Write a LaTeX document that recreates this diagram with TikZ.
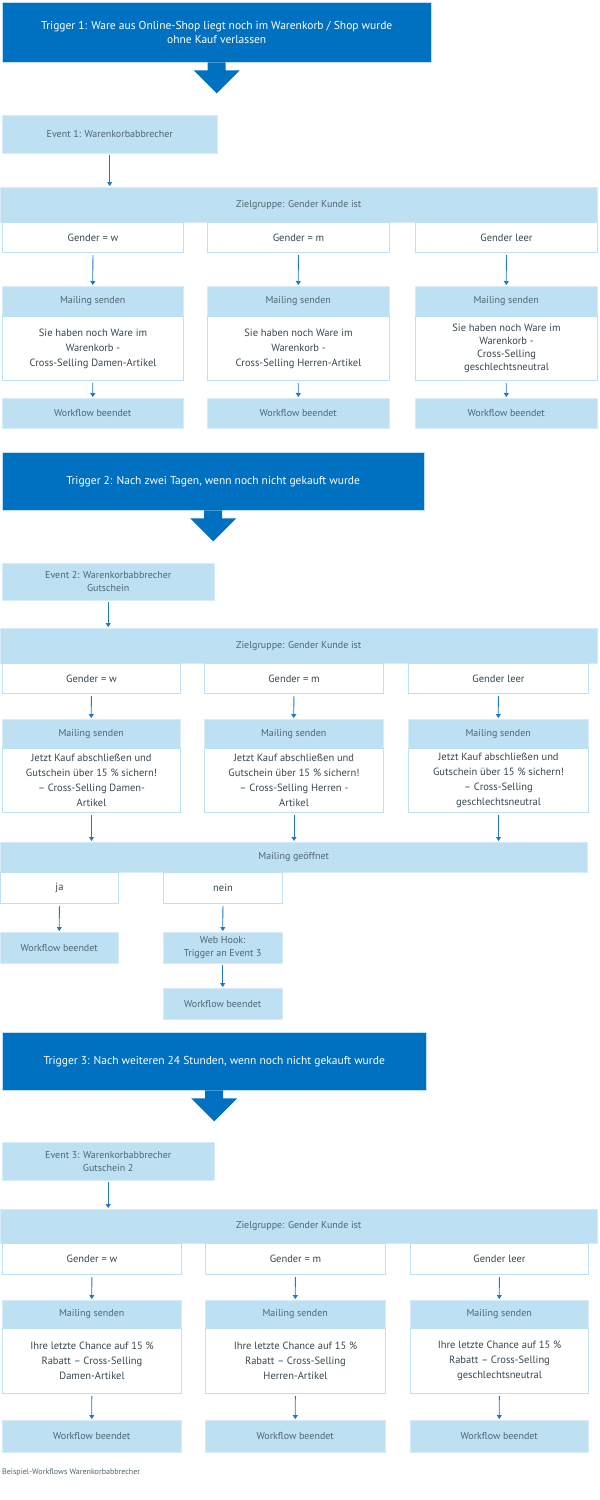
\documentclass[tikz,border=0pt]{standalone}
\usepackage{fontspec}
\setmainfont{PT Sans}
\usepackage{xcolor}
\usetikzlibrary{positioning,calc,arrows.meta}
\definecolor{darkBlue}{HTML}{0070C0}
\definecolor{lightBlue}{HTML}{BDE0F3}
\definecolor{lineBlue}{HTML}{1F78C8}
\definecolor{textGrey}{HTML}{4F6673}
\tikzstyle{nodeTrigger}=[anchor=north west,fill=darkBlue,draw=lightBlue,text=white,align=center,font=\fontsize{11.5}{14}\selectfont,inner sep=0pt]
\tikzstyle{nodeLBlue}  =[anchor=north west,fill=lightBlue,draw=lightBlue!60,text=textGrey,align=center,font=\fontsize{10}{13}\selectfont,inner sep=0pt]
\tikzstyle{nodeWhite}  =[anchor=north west,fill=white,draw=lightBlue,line width=1pt,text=textGrey!70!black,align=center,font=\fontsize{10.5}{15}\selectfont,inner sep=0pt]
\tikzstyle{flow}       =[draw=lineBlue,line width=0.8pt,-{Triangle[width=5pt,length=4pt]},shorten <=2pt,shorten >=1pt]
\newcommand{\bigarrow}[1]{% big arrow below a trigger
  \fill[darkBlue] ($(#1.south)+(-9,0)$) -- ++(0,8) -- ++(-14,0) -- ($(#1.south)+(0,31)$)
     -- ($(#1.south)+(23,8)$) -- ++(-14,0) -- ++(0,-8) -- cycle;}

\begin{document}
\begin{tikzpicture}[x=1pt,y=-1pt]
  \useasboundingbox[fill=white] (0,0) rectangle (600,1500);
  % block 1
  \node[nodeTrigger,minimum width=429,minimum height=60] (t1) at (2,2) {Trigger 1: Ware aus Online-Shop liegt noch im Warenkorb / Shop wurde\\ohne Kauf verlassen};
  \bigarrow{t1}
  \node[nodeLBlue,minimum width=215,minimum height=38] (e1) at (2,115) {Event 1: Warenkorbabbrecher};
  \node[nodeLBlue,minimum width=597,minimum height=35] (z1) at (0,187) {Zielgruppe: Gender Kunde ist};
  \node[nodeWhite,minimum width=181,minimum height=30] (g11) at (2,222) {Gender = w};
  \node[nodeWhite,minimum width=182,minimum height=30] (g12) at (207,222) {Gender = m};
  \node[nodeWhite,minimum width=182,minimum height=30] (g13) at (415,222) {Gender leer};
  \node[nodeLBlue,minimum width=181,minimum height=30] (m11) at (2,286) {Mailing senden};
  \node[nodeLBlue,minimum width=182,minimum height=30] (m12) at (207,286) {Mailing senden};
  \node[nodeLBlue,minimum width=182,minimum height=30] (m13) at (415,286) {Mailing senden};
  \node[nodeWhite,minimum width=181,minimum height=64] (c11) at (2,316) {Sie haben noch Ware im\\Warenkorb -\\Cross-Selling Damen-Artikel};
  \node[nodeWhite,minimum width=182,minimum height=64] (c12) at (207,316) {Sie haben noch Ware im\\Warenkorb -\\Cross-Selling Herren-Artikel};
  \node[nodeWhite,minimum width=182,minimum height=64,font=\fontsize{10.5}{13}\selectfont] (c13) at (415,316) {Sie haben noch Ware im\\Warenkorb -\\Cross-Selling\\geschlechtsneutral};
  \node[nodeLBlue,minimum width=181,minimum height=30] (w11) at (2,398) {Workflow beendet};
  \node[nodeLBlue,minimum width=182,minimum height=30] (w12) at (207,398) {Workflow beendet};
  \node[nodeLBlue,minimum width=182,minimum height=30] (w13) at (415,398) {Workflow beendet};
  \draw[flow] (e1) -- (e1 |- z1.north);
  \foreach \i in {1,2,3}{
    \draw[flow] (g1\i) -- (m1\i);
    \draw[flow] (c1\i) -- (w1\i);
  }
  % block 2
  \node[nodeTrigger,minimum width=422,minimum height=58] (t2) at (2,452) {Trigger 2: Nach zwei Tagen, wenn noch nicht gekauft wurde};
  \bigarrow{t2}
  \node[nodeLBlue,minimum width=212,minimum height=37] (e2) at (2,563) {Event 2: Warenkorbabbrecher\\Gutschein};
  \node[nodeLBlue,minimum width=597,minimum height=35] (z2) at (0,628) {Zielgruppe: Gender Kunde ist};
  \node[nodeWhite,minimum width=178,minimum height=30] (g21) at (2,663) {Gender = w};
  \node[nodeWhite,minimum width=179,minimum height=30] (g22) at (204,663) {Gender = m};
  \node[nodeWhite,minimum width=180,minimum height=30] (g23) at (408,663) {Gender leer};
  \node[nodeLBlue,minimum width=178,minimum height=29] (m21) at (2,719) {Mailing senden};
  \node[nodeLBlue,minimum width=179,minimum height=29] (m22) at (204,719) {Mailing senden};
  \node[nodeLBlue,minimum width=180,minimum height=29] (m23) at (408,719) {Mailing senden};
  \node[nodeWhite,minimum width=178,minimum height=64] (c21) at (2,748) {Jetzt Kauf abschließen und\\Gutschein über 15 \% sichern!\\– Cross-Selling Damen-\\Artikel};
  \node[nodeWhite,minimum width=179,minimum height=64] (c22) at (204,748) {Jetzt Kauf abschließen und\\Gutschein über 15 \% sichern!\\– Cross-Selling Herren -\\Artikel};
  \node[nodeWhite,minimum width=180,minimum height=64] (c23) at (408,748) {Jetzt Kauf abschließen und\\Gutschein über 15 \% sichern!\\– Cross-Selling\\geschlechtsneutral};
  \node[nodeLBlue,minimum width=587,minimum height=30] (o2) at (0,842) {Mailing geöffnet};
  \foreach \i in {1,2,3}{
    \draw[flow] (g2\i) -- (m2\i);
    \draw[flow] (c2\i) -- (c2\i |- o2.north);
  }
  \draw[flow] (e2) -- (e2 |- z2.north);
  \node[nodeWhite,minimum width=118,minimum height=31] (ja) at (0,872) {ja};
  \node[nodeWhite,minimum width=119,minimum height=31] (nein) at (163,872) {nein};
  \node[nodeLBlue,minimum width=118,minimum height=31] (w21) at (0,932) {Workflow beendet};
  \node[nodeLBlue,minimum width=119,minimum height=31] (hook) at (163,932) {Web Hook:\\Trigger an Event 3};
  \node[nodeLBlue,minimum width=119,minimum height=31] (w22) at (163,988) {Workflow beendet};
  \draw[flow] (ja) -- (w21);
  \draw[flow] (nein) -- (hook);
  \draw[flow] (hook) -- (w22);
  % block 3
  \node[nodeTrigger,minimum width=424,minimum height=58] (t3) at (2,1032) {Trigger 3: Nach weiteren 24 Stunden, wenn noch nicht gekauft wurde};
  \bigarrow{t3}
  \node[nodeLBlue,minimum width=212,minimum height=38] (e3) at (2,1142) {Event 3: Warenkorbabbrecher\\Gutschein 2};
  \node[nodeLBlue,minimum width=597,minimum height=34] (z3) at (0,1209) {Zielgruppe: Gender Kunde ist};
  \node[nodeWhite,minimum width=179,minimum height=31] (g31) at (2,1243) {Gender = w};
  \node[nodeWhite,minimum width=180,minimum height=31] (g32) at (205,1243) {Gender = m};
  \node[nodeWhite,minimum width=178,minimum height=31] (g33) at (410,1243) {Gender leer};
  \node[nodeLBlue,minimum width=179,minimum height=28] (m31) at (2,1300) {Mailing senden};
  \node[nodeLBlue,minimum width=180,minimum height=28] (m32) at (205,1300) {Mailing senden};
  \node[nodeLBlue,minimum width=178,minimum height=28] (m33) at (410,1300) {Mailing senden};
  \node[nodeWhite,minimum width=179,minimum height=65] (c31) at (2,1328) {Ihre letzte Chance auf 15 \%\\Rabatt – Cross-Selling\\Damen-Artikel};
  \node[nodeWhite,minimum width=180,minimum height=65] (c32) at (205,1328) {Ihre letzte Chance auf 15 \%\\Rabatt – Cross-Selling\\Herren-Artikel};
  \node[nodeWhite,minimum width=178,minimum height=65] (c33) at (410,1328) {Ihre letzte Chance auf 15 \%\\Rabatt – Cross-Selling\\geschlechtsneutral};
  \node[nodeLBlue,minimum width=179,minimum height=32] (w31) at (2,1420) {Workflow beendet};
  \node[nodeLBlue,minimum width=180,minimum height=32] (w32) at (205,1420) {Workflow beendet};
  \node[nodeLBlue,minimum width=178,minimum height=32] (w33) at (410,1420) {Workflow beendet};
  \draw[flow] (e3) -- (e3 |- z3.north);
  \foreach \i in {1,2,3}{
    \draw[flow] (g3\i) -- (m3\i);
    \draw[flow] (c3\i) -- (w3\i);
  }
  \node[anchor=west,text=textGrey,font=\fontsize{8}{10}\selectfont,inner sep=0pt] (cap) at (2,1472) {Beispiel-Workflows Warenkorbabbrecher};
\end{tikzpicture}
\end{document}
